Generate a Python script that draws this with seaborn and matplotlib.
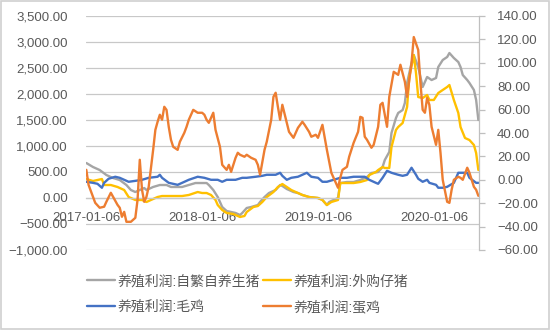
import numpy as np
import pandas as pd
import matplotlib
matplotlib.use("Agg")
import matplotlib.pyplot as plt
from matplotlib.patches import Rectangle
from matplotlib.ticker import StrMethodFormatter
import seaborn as sns

# Weekly series, indexed by week number counted from the first report date
START = pd.Timestamp("2017-01-06")

# 养殖利润:自繁自养生猪 (left axis), (week, value)
sow_pts = [(0, 673), (3, 596), (6, 538), (9, 442), (12, 385), (15, 346), (18, 250), (20, 154),
           (22, 115), (24, 154), (26, 192), (27, 154), (30, 212), (33, 250), (36, 250), (38, 212),
           (41, 212), (43, 212), (46, 250), (49, 288), (52, 288), (54, 288), (55, 250), (57, 154),
           (59, 19), (60, -77), (61, -173), (63, -250), (65, -269), (67, -288), (69, -327),
           (70, -288), (72, -192), (74, -173), (77, -135), (78, -77), (80, 19), (82, 96), (85, 154),
           (87, 250), (88, 231), (90, 173), (93, 115), (95, 96), (97, 58), (100, 19), (104, 0),
           (106, -38), (108, -135), (109, -77), (113, 0), (114, 288), (117, 308), (120, 308),
           (123, 346), (126, 404), (128, 481), (131, 500), (133, 596), (134, 731), (136, 885),
           (137, 1250), (139, 1538), (140, 1635), (142, 1692), (143, 1827), (144, 2212),
           (146, 2596), (147, 2750), (149, 2519), (150, 2327), (151, 2135), (152, 2231),
           (153, 2327), (155, 2269), (157, 2308), (158, 2519), (160, 2654), (162, 2712),
           (163, 2788), (165, 2692), (167, 2615), (168, 2519), (169, 2365), (171, 2269),
           (172, 2212), (174, 2077), (175, 1885), (176, 1500)]

# 养殖利润:外购仔猪 (left axis)
piglet_pts = [(0, 365), (3, 327), (5, 346), (7, 365), (8, 250), (11, 250), (14, 212), (17, 154),
              (19, 19), (22, -38), (25, -38), (27, -77), (29, -38), (32, 19), (34, 38), (37, 38),
              (41, 38), (43, 38), (46, 58), (50, 115), (52, 96), (54, 96), (56, 58), (58, -38),
              (59, -135), (61, -231), (63, -288), (66, -308), (69, -365), (71, -346), (72, -269),
              (75, -173), (77, -154), (79, -77), (81, 19), (84, 115), (86, 212), (88, 269),
              (90, 212), (92, 154), (95, 96), (97, 58), (100, 19), (104, 0), (106, -38),
              (108, -135), (110, -77), (113, -38), (114, 288), (117, 288), (120, 288), (123, 308),
              (126, 346), (127, 442), (130, 500), (131, 538), (133, 596), (134, 577), (136, 577),
              (137, 981), (139, 1308), (140, 1365), (142, 1442), (144, 1750), (145, 2327),
              (147, 2750), (148, 2404), (149, 1942), (151, 1923), (153, 1981), (154, 1885),
              (156, 1885), (158, 2019), (160, 2077), (162, 2135), (163, 2173), (165, 1885),
              (167, 1635), (168, 1365), (170, 1154), (172, 1115), (174, 1019), (175, 865),
              (176, 538)]

# 养殖利润:毛鸡 (right axis)
broiler_pts = [(0, -1.7), (3, -2.6), (5, -3.4), (7, -6.8), (8, -2.6), (10, 0.9), (13, 2.6),
               (15, 1.7), (17, 0), (19, -1.7), (22, -0.9), (25, 0), (28, 1.7), (32, 2.6), (33, 4.3),
               (34, 1.7), (37, -2.6), (41, -4.3), (43, -2.6), (46, 0), (50, 2.6), (53, 1.7),
               (56, 0), (59, 0), (61, -1.7), (63, 0), (67, 0), (70, 1.7), (72, 1.7), (76, 2.6),
               (79, 3.4), (81, 4.3), (85, 4.3), (87, 6), (88, 3.4), (90, 0), (92, 1.7), (95, 2.6),
               (97, 4.3), (99, 6), (101, 2.6), (104, 1.7), (106, -1.7), (108, -1.7), (111, 0),
               (114, 1.7), (117, 1.7), (120, 2.6), (123, 2.6), (125, 2.6), (127, 0), (130, -2.6),
               (131, -3.4), (133, 1.7), (135, 7.7), (137, 6), (140, 4.3), (142, 3.4), (144, 4.3),
               (146, 10.3), (148, 4.3), (149, 0.9), (151, -1.7), (153, 0), (154, -2.6),
               (157, -4.3), (158, -6.8), (160, -6.8), (162, -6), (165, -2.6), (167, 6), (169, 6),
               (171, 6), (172, 1.7), (175, -2.6), (176, -2.6)]

# 养殖利润:蛋鸡 (right axis)
layer_pts = [(0, 8.5), (1, -4.3), (4, -19.7), (6, -23.9), (8, -23.0), (9, -18.8), (11, -11.1),
             (12, -14.5), (14, -21.4), (15, -23.9), (16, -31.6), (17, -27.4), (18, -35.9),
             (20, -35.9), (22, -32.5), (23, -17.1), (24, 17.1), (25, -8.5), (26, -18.8),
             (27, -14.5), (28, -6.0), (30, 25.6), (31, 42.7), (32, 49.6), (33, 55.6), (34, 51.3),
             (35, 62.4), (36, 59.8), (37, 45.3), (38, 34.2), (39, 28.2), (41, 25.6), (42, 32.5),
             (44, 40.2), (45, 45.3), (46, 51.3), (48, 59.8), (50, 57.3), (52, 57.3), (53, 55.6),
             (54, 51.3), (55, 48.7), (57, 57.3), (58, 42.7), (60, 28.2), (61, 12.8), (63, 8.5),
             (64, 12.8), (65, 6.8), (67, 18.8), (68, 23.1), (69, 21.4), (71, 19.7), (72, 21.4),
             (74, 18.8), (76, 17.1), (77, 12.8), (78, 4.3), (80, 25.6), (81, 32.5), (83, 51.3),
             (84, 70.9), (85, 74.4), (86, 62.4), (87, 51.3), (88, 64.1), (90, 48.7), (91, 41.0),
             (93, 35.9), (95, 44.4), (97, 49.6), (98, 47.0), (100, 41.0), (101, 36.8),
             (103, 38.5), (104, 35.9), (106, 47.0), (108, 25.6), (110, 6.0), (113, -6.8),
             (114, 1.7), (115, 8.5), (117, 11.1), (118, 19.7), (120, 31.6), (122, 41.0),
             (123, 53.8), (124, 53.0), (125, 36.8), (126, 34.2), (128, 27.4), (129, 29.9),
             (131, 45.3), (132, 64.1), (133, 65.8), (135, 45.3), (136, 70.9), (138, 92.3),
             (140, 89.7), (141, 98.3), (143, 83.8), (144, 70.9), (146, 100.0), (147, 122.0),
             (149, 111.0), (150, 82.9), (151, 59.8), (152, 57.3), (153, 70.0), (154, 64.1),
             (155, 45.3), (157, 29.9), (158, 42.7), (159, 23.1), (160, 0.0), (162, -18.8),
             (163, -19.7), (164, -8.5), (165, 0.0), (167, 2.6), (168, 1.7), (169, 0.0),
             (171, 10.3), (172, 6.0), (174, -6.0), (175, -8.5), (176, -13.7)]

labels = ["养殖利润:自繁自养生猪", "养殖利润:外购仔猪", "养殖利润:毛鸡", "养殖利润:蛋鸡"]
colors = ["#A5A5A5", "#FFC000", "#4472C4", "#ED7D31"]

tick_dates = ["2017-01-06", "2018-01-06", "2019-01-06", "2020-01-06"]
left_ticks = list(range(-1000, 3501, 500))
right_ticks = list(range(-60, 141, 20))

TEXT = "#595959"
GRID = "#C8C8C8"


def frame(pts):
    weeks, vals = zip(*pts)
    dates = START + pd.to_timedelta(np.array(weeks) * 7, unit="D")
    return pd.DataFrame({"date": dates, "value": vals})


sns.set_theme(style="white")
plt.rcParams["font.family"] = ["Liberation Sans", "Noto Sans CJK SC"]

fig = plt.figure(figsize=(5.5, 3.3), dpi=100)
ax = fig.add_axes([86 / 550, 1 - 250 / 330, (479 - 86) / 550, (250 - 16) / 330])
ax2 = ax.twinx()

lw = 1.7
sns.lineplot(data=frame(sow_pts), x="date", y="value", ax=ax, color=colors[0], lw=lw, label=labels[0])
sns.lineplot(data=frame(piglet_pts), x="date", y="value", ax=ax, color=colors[1], lw=lw, label=labels[1])
sns.lineplot(data=frame(broiler_pts), x="date", y="value", ax=ax2, color=colors[2], lw=lw, label=labels[2])
sns.lineplot(data=frame(layer_pts), x="date", y="value", ax=ax2, color=colors[3], lw=lw, label=labels[3])

h1, l1 = ax.get_legend_handles_labels()
h2, l2 = ax2.get_legend_handles_labels()
for a in (ax, ax2):
    if a.get_legend() is not None:
        a.get_legend().remove()
    a.set_xlabel("")
    a.set_ylabel("")

# left axis
ax.set_ylim(-1000, 3500)
ax.set_yticks(left_ticks)
ax.yaxis.set_major_formatter(StrMethodFormatter("{x:,.2f}"))
ax.grid(axis="y", color=GRID, lw=0.9)
ax.grid(axis="x", visible=False)
ax.set_axisbelow(True)
for s in ("left", "top", "right"):
    ax.spines[s].set_visible(False)
ax.spines["bottom"].set_position(("data", 0))
ax.spines["bottom"].set_color(GRID)
ax.spines["bottom"].set_linewidth(0.9)
ax.tick_params(axis="y", length=0, pad=13, labelsize=9.5, labelcolor=TEXT)
ax.tick_params(axis="x", length=0, pad=10, labelsize=9.5, labelcolor=TEXT)

# date axis
ax.set_xlim(START - pd.Timedelta(days=1), START + pd.Timedelta(days=176 * 7 + 2))
ax.set_xticks(pd.to_datetime(tick_dates))
ax.set_xticklabels(tick_dates)

# right axis
ax2.set_ylim(-60, 140)
ax2.set_yticks(right_ticks)
ax2.yaxis.set_major_formatter(StrMethodFormatter("{x:.2f}"))
ax2.grid(False)
for s in ("left", "top", "bottom"):
    ax2.spines[s].set_visible(False)
ax2.spines["right"].set_color("#BFBFBF")
ax2.spines["right"].set_linewidth(0.9)
ax2.tick_params(axis="y", right=True, length=4, width=0.9, color="#BFBFBF",
                pad=9, labelsize=9.5, labelcolor=TEXT)

handles = [h1[0], h2[0], h1[1], h2[1]]
names = [l1[0], l2[0], l1[1], l2[1]]
fig.legend(handles, names, ncol=2, loc="center", bbox_to_anchor=(248 / 550, 1 - 294 / 330),
           frameon=False, fontsize=10, handlelength=2.0, handletextpad=0.2,
           columnspacing=0.2, labelspacing=0.85, labelcolor=TEXT)

fig.patches.append(Rectangle((0.002, 0.003), 0.996, 0.994, transform=fig.transFigure,
                             fill=False, edgecolor="#D0D0D0", lw=1.2))

fig.savefig("out.png", dpi=100)
